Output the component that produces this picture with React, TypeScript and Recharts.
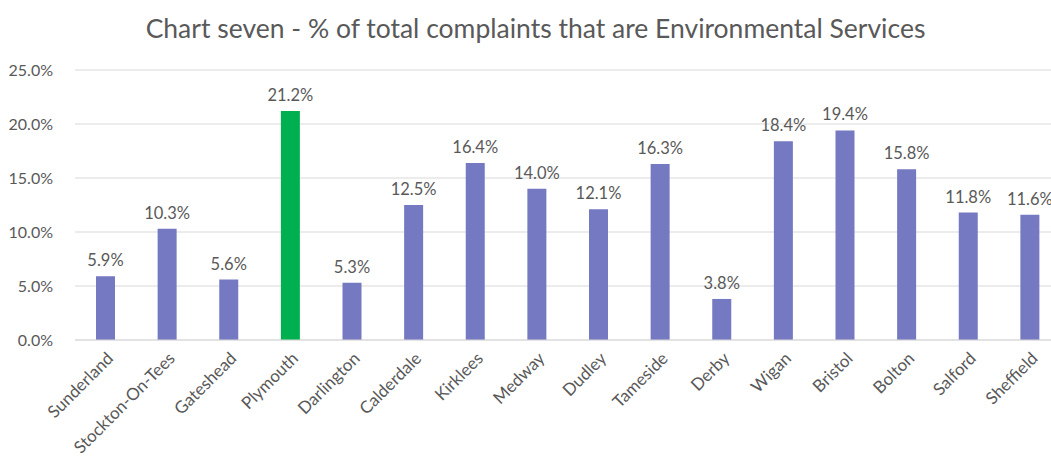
import React from 'react';
import { BarChart, Bar, XAxis, YAxis, CartesianGrid, Cell, LabelList } from 'recharts';

const councils = [
  'Sunderland', 'Stockton-On-Tees', 'Gateshead', 'Plymouth', 'Darlington', 'Calderdale',
  'Kirklees', 'Medway', 'Dudley', 'Tameside', 'Derby', 'Wigan', 'Bristol', 'Bolton', 'Salford', 'Sheffield',
];
const envPercent = [5.9, 10.3, 5.6, 21.2, 5.3, 12.5, 16.4, 14.0, 12.1, 16.3, 3.8, 18.4, 19.4, 15.8, 11.8, 11.6];
const yTicks = [0, 5, 10, 15, 20, 25];
const highlight = 'Plymouth';

const data = councils.map((name, i) => ({ name, value: envPercent[i] }));

const FONT = 'Lato, "Open Sans", sans-serif';
const GREY = '#595959';

const AngledTick = (props: any) => {
  const { x, y, payload } = props;
  return (
    <g transform={`translate(${x + 5},${y + 8})`}>
      <text transform="rotate(-45)" textAnchor="end" fill={GREY} fontSize={17} fontFamily={FONT} dy={5}>
        {payload.value}
      </text>
    </g>
  );
};

const App: React.FC = () => {
  return (
    <div style={{ position: 'absolute', left: 0, top: 0, width: 1051, height: 457, overflow: 'hidden', background: '#fff' }}>
      <div style={{ position: 'absolute', top: 12, left: 10, width: 1051, textAlign: 'center', fontFamily: FONT, fontSize: 26.5, color: GREY }}>
        Chart seven - % of total complaints that are Environmental Services
      </div>
      <BarChart width={1070} height={457} data={data} margin={{ top: 70, right: 9, bottom: 0, left: 0 }}>
        <CartesianGrid vertical={false} stroke="#d9d9d9" />
        <XAxis
          dataKey="name"
          interval={0}
          tickLine={false}
          axisLine={{ stroke: '#d9d9d9' }}
          tick={<AngledTick />}
          height={117}
        />
        <YAxis
          domain={[0, 25]}
          ticks={yTicks}
          tickFormatter={(v: number) => `${v.toFixed(1)}%`}
          tick={{ fill: GREY, fontSize: 16, fontFamily: FONT }}
          axisLine={false}
          tickLine={false}
          width={75}
          tickMargin={16}
        />
        <Bar dataKey="value" barSize={19} isAnimationActive={false}>
          {data.map((d) => (
            <Cell key={d.name} fill={d.name === highlight ? '#00b050' : '#7479c2'} />
          ))}
          <LabelList
            dataKey="value"
            position="top"
            offset={10}
            formatter={(v: any) => `${Number(v).toFixed(1)}%`}
            style={{ fill: GREY, fontSize: 16.5, fontFamily: FONT }}
          />
        </Bar>
      </BarChart>
    </div>
  );
};

export default App;
